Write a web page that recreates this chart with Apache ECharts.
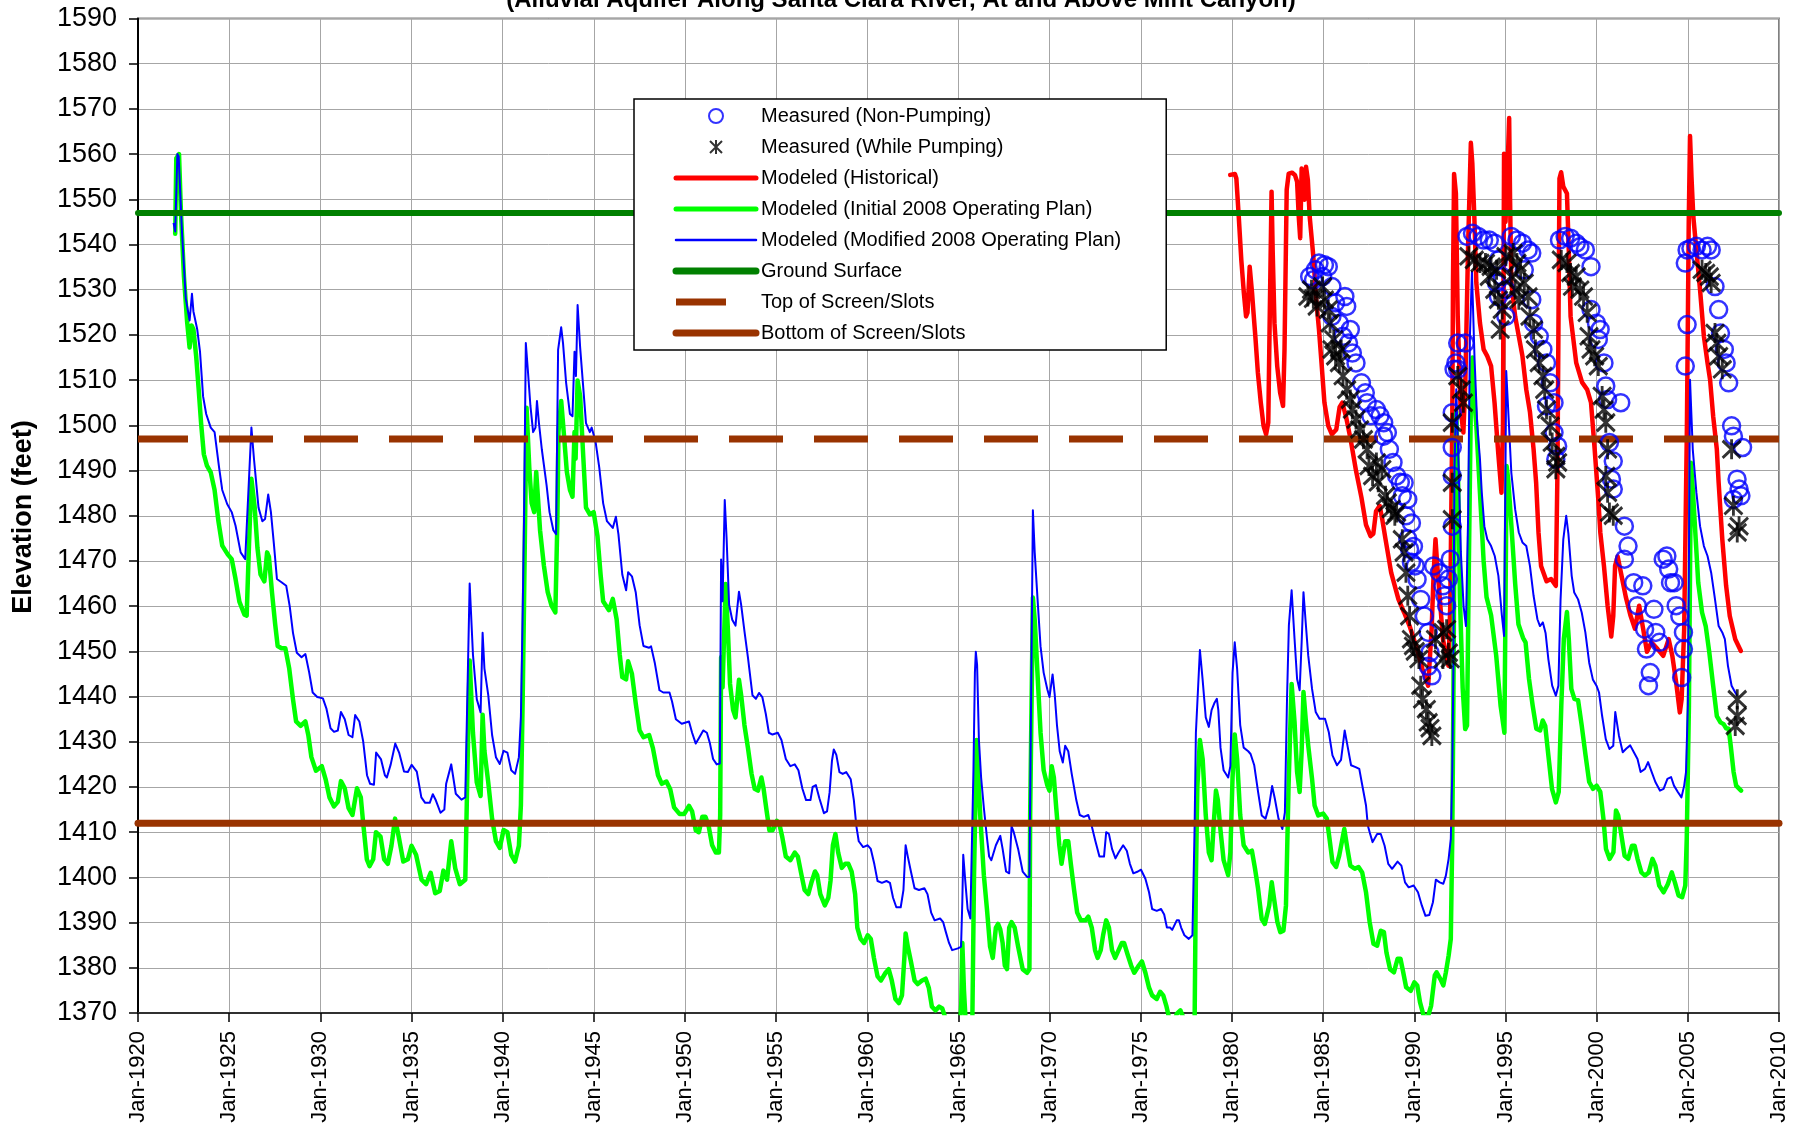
<!DOCTYPE html>
<html>
<head>
<meta charset="utf-8">
<script src="https://cdn.jsdelivr.net/npm/echarts@6/dist/echarts.min.js"></script>
<style>
  html, body { margin: 0; padding: 0; background: #fff; }
  #chart { width: 1803px; height: 1130px; }
</style>
</head>
<body>
<div id="chart"></div>
<script>
// reference levels (feet)
var groundSurface = 1547;
var topOfScreen = 1497;
var bottomOfScreen = 1412;

var seriesNames = [
  'Measured (Non-Pumping)',
  'Measured (While Pumping)',
  'Modeled (Historical)',
  'Modeled (Initial 2008 Operating Plan)',
  'Modeled (Modified 2008 Operating Plan)',
  'Ground Surface',
  'Top of Screen/Slots',
  'Bottom of Screen/Slots'
];

// [decimal year, elevation]
var measuredNonPumping = [
  [1984.26,1532.9],[1984.47,1532.2],[1984.57,1534.4],[1984.77,1535.9],[1984.97,1532.9],[1985.07,1535.5],[1985.28,1535.1],[1985.48,1530.7],
  [1985.48,1524.1],[1985.68,1527.1],[1985.89,1522.6],[1986.09,1519.7],[1986.19,1528.5],[1986.29,1526.3],[1986.39,1518.2],[1986.49,1521.2],
  [1986.6,1516],[1986.8,1513.8],[1987.1,1509.4],[1987.31,1507.2],[1987.41,1505],[1987.61,1502.1],[1987.92,1503.5],[1988.12,1502.1],
  [1988.32,1500.6],[1988.32,1497.6],[1988.52,1498.4],[1988.63,1494.7],[1988.83,1491.8],[1989.03,1488.8],[1989.23,1487.4],[1989.34,1484.4],
  [1989.44,1487.3],[1989.54,1480],[1989.64,1483.6],[1989.64,1474.9],[1989.74,1472.6],[1989.84,1478.4],[1989.84,1469.7],[1989.95,1473.2],
  [1990.05,1468.9],[1990.15,1465.9],[1990.35,1461.5],[1990.55,1457.8],[1990.76,1454.2],[1990.86,1449.7],[1990.76,1446.7],[1990.96,1444.6],
  [1991.06,1468.9],[1991.37,1467.4],[1991.57,1464.5],[1991.67,1462.3],[1991.77,1460.1],[1991.87,1466],[1991.97,1470.4],[1992.08,1477.7],
  [1992.08,1488.8],[1992.08,1495.1],[1992.08,1502.8],[1992.18,1512.4],[1992.28,1513.8],[1992.38,1518.2],[1992.38,1512.4],[1992.79,1518.2],
  [1992.89,1541.8],[1993.19,1542.5],[1993.5,1541.8],[1993.8,1541],[1994.11,1541],[1994.41,1540.3],[1994.51,1531.5],[1994.61,1536.6],
  [1994.61,1528.5],[1994.82,1532.9],[1995.02,1530],[1995.02,1524.1],[1995.32,1541.8],[1995.63,1541],[1995.93,1540.3],[1996.03,1534.4],
  [1996.24,1538.8],[1996.44,1538.1],[1996.44,1527.8],[1996.54,1522.6],[1996.85,1519.7],[1997.05,1516.8],[1997.25,1513.8],[1997.45,1509.4],
  [1997.66,1505],[1997.25,1504.3],[1997.66,1498.4],[1997.86,1495.4],[1997.76,1492.5],[1997.96,1541],[1998.27,1541.8],[1998.57,1541.4],
  [1998.88,1540.3],[1999.08,1539.5],[1999.38,1538.8],[1999.69,1535.1],[1999.69,1525.6],[1999.99,1522.6],[2000.09,1519],[2000.19,1521.2],
  [2000.4,1513.8],[2000.5,1508.7],[2000.6,1505.7],[2001.32,1505],[2000.7,1496.2],[2000.91,1492.1],[2000.81,1488.1],[2000.91,1485.9],
  [2001.52,1477.7],[2001.72,1473.3],[2001.52,1470.4],[2002.03,1465.2],[2002.23,1460.1],[2002.53,1464.5],[2002.63,1454.9],[2002.73,1450.5],
  [2002.94,1445.3],[2002.84,1442.4],[2003.14,1459.3],[2003.24,1454.2],[2003.44,1452],[2003.65,1470.4],[2003.85,1471.1],[2003.95,1468.2],
  [2004.05,1465.2],[2004.25,1465.2],[2004.36,1460.1],[2004.56,1457.8],[2004.76,1454.2],[2004.76,1450.5],[2004.66,1444.2],[2004.86,1513.1],
  [2004.96,1522.3],[2004.96,1538.8],[2004.86,1535.9],[2005.17,1539.2],[2005.47,1539.6],[2005.78,1538.8],[2006.08,1539.6],[2006.28,1538.8],
  [2006.49,1530.7],[2006.69,1525.6],[2006.79,1520.4],[2007,1516.8],[2007.1,1513.8],[2007.24,1509.4],[2007.4,1499.9],[2007.5,1497.6],
  [2008,1495.1],[2007.7,1488.1],[2007.81,1485.9],[2007.91,1484.4],[2007.5,1483.6]
];

var measuredWhilePumping = [
  [1984.16,1528.5],[1984.36,1530],[1984.46,1528],[1984.67,1526.3],[1984.97,1530.7],[1985.07,1527.8],[1985.28,1525.6],[1985.38,1522.6],
  [1985.58,1519],[1985.48,1516.8],[1985.68,1515.3],[1985.89,1513.8],[1985.99,1516.8],[1986.09,1510.9],[1986.29,1507.9],[1986.49,1505.7],
  [1986.6,1503.5],[1986.8,1501.3],[1987,1499.1],[1987.21,1496.9],[1987.41,1494.7],[1987.51,1491],[1987.71,1488.8],[1987.92,1491.8],
  [1988.02,1487.4],[1988.22,1490.3],[1988.42,1484.4],[1988.52,1482.9],[1988.73,1481.5],[1988.93,1480],[1989.03,1480.7],[1989.34,1474.8],
  [1989.44,1471.9],[1989.54,1467.4],[1989.64,1462.3],[1989.74,1457.8],[1989.84,1452.7],[1989.95,1451.2],[1990.05,1450],[1990.25,1448.3],
  [1990.35,1442.4],[1990.45,1439.4],[1990.66,1437.2],[1990.76,1434.3],[1990.86,1433],[1990.96,1431.3],[1991.16,1452.7],[1991.57,1454.2],
  [1991.57,1448.3],[1991.77,1454.9],[1991.87,1449.7],[1991.97,1448.3],[1992.08,1479.2],[1992.08,1487.3],[1992.08,1500.6],[1992.38,1510.9],
  [1992.58,1507.9],[1992.69,1505],[1992.99,1537.4],[1993.29,1536.6],[1993.6,1535.9],[1993.9,1535.9],[1994.11,1532.9],[1994.21,1535.1],
  [1994.41,1530],[1994.51,1534.4],[1994.61,1527.8],[1994.71,1521.2],[1994.82,1525.6],[1995.02,1537.4],[1995.32,1532.9],[1995.42,1538.1],
  [1995.53,1530],[1995.63,1535.9],[1995.73,1527.8],[1995.83,1534.4],[1996.03,1531.5],[1996.24,1528.5],[1996.34,1524.1],[1996.54,1521.2],
  [1996.64,1516.8],[1996.85,1513.8],[1997.05,1510.9],[1997.15,1507.9],[1997.25,1503.5],[1997.45,1499.9],[1997.56,1496.2],[1997.76,1493.2],
  [1997.86,1491.8],[1997.76,1490.3],[1998.06,1536.6],[1998.37,1535.9],[1998.57,1533.7],[1998.67,1530.7],[1998.88,1532.9],[1999.08,1530],
  [1999.28,1528.5],[1999.48,1524.9],[1999.58,1519.7],[1999.69,1516.8],[1999.89,1515.3],[2000.09,1513.1],[2000.3,1506.5],[2000.4,1503.5],
  [2000.5,1500.6],[2000.6,1494.7],[2000.5,1488.8],[2000.6,1485.1],[2000.7,1480.7],[2000.91,1480],[2005.78,1534.4],[2005.98,1533.7],
  [2006.18,1532.9],[2006.28,1531.5],[2006.49,1520.4],[2006.59,1518.2],[2006.69,1515.3],[2006.89,1512.4],[2007.4,1494.7],[2007.5,1482.2],
  [2007.81,1477.7],[2007.71,1476.3],[2007.71,1439.4],[2007.71,1435.7],[2007.6,1433.5]
];

var modeledHistorical = [
  [1979.9,1555.4],[1980.16,1555.6],[1980.24,1554.6],[1980.37,1546.2],[1980.51,1536.6],[1980.65,1529.3],[1980.77,1524.1],[1980.85,1524.9],
  [1980.97,1535.1],[1981.01,1535.5],[1981.1,1529.3],[1981.18,1524.9],[1981.28,1519.7],[1981.42,1511.6],[1981.58,1505],[1981.73,1499.9],
  [1981.87,1498],[1981.99,1500.6],[1982.07,1524.1],[1982.17,1551.7],[1982.23,1538.8],[1982.33,1522.6],[1982.48,1513.1],[1982.64,1507.2],
  [1982.8,1504.3],[1982.88,1516.8],[1983,1552.1],[1983.11,1555.7],[1983.29,1555.9],[1983.45,1555.4],[1983.57,1553.9],[1983.66,1546.2],
  [1983.74,1541.4],[1983.82,1556.8],[1983.9,1555.7],[1983.98,1549.9],[1984.06,1557.2],[1984.16,1554.3],[1984.26,1546.2],[1984.46,1537.4],
  [1984.62,1527.8],[1984.77,1521.2],[1984.91,1513.8],[1985.07,1505],[1985.28,1499.9],[1985.48,1498],[1985.72,1499.1],[1985.9,1504],
  [1986.05,1505],[1986.25,1502],[1986.5,1497],[1986.8,1490],[1987.1,1484],[1987.35,1478],[1987.6,1475.5],[1987.75,1476],
  [1987.9,1481],[1988.1,1482.2],[1988.25,1479],[1988.42,1474.8],[1988.73,1467.4],[1989.13,1461.5],[1989.44,1458.6],[1989.74,1455.6],
  [1990.15,1450.5],[1990.45,1446],[1990.76,1442.4],[1990.95,1455],[1991.06,1467.4],[1991.16,1474.8],[1991.26,1468.9],[1991.57,1452.7],
  [1991.87,1446.8],[1991.97,1460],[1992.08,1500],[1992.12,1531.5],[1992.18,1555.6],[1992.28,1551.3],[1992.38,1524.1],[1992.54,1503.5],
  [1992.69,1498.4],[1992.8,1510],[1992.95,1540],[1993.1,1562.5],[1993.18,1558],[1993.29,1546.2],[1993.4,1531.5],[1993.6,1522.6],
  [1993.8,1516.8],[1994,1515.3],[1994.21,1513.1],[1994.4,1505],[1994.6,1494],[1994.78,1485.1],[1994.86,1500],[1994.92,1560.1],
  [1995,1545],[1995.1,1555],[1995.2,1568],[1995.25,1550],[1995.32,1531.5],[1995.53,1524.1],[1995.73,1519.7],[1995.93,1515.3],
  [1996.14,1507.9],[1996.34,1503],[1996.54,1494.7],[1996.68,1487.3],[1996.81,1476.3],[1996.95,1468.9],[1997.25,1465.5],[1997.5,1466],
  [1997.76,1464.5],[1997.85,1490],[1997.96,1554.6],[1998.05,1556],[1998.17,1552.8],[1998.37,1551.3],[1998.47,1538.8],[1998.57,1524.1],
  [1998.88,1513.8],[1999.2,1509.5],[1999.48,1507.9],[1999.69,1505],[1999.89,1494.7],[2000.09,1483.6],[2000.2,1476.3],[2000.4,1468.9],
  [2000.6,1460.1],[2000.8,1453.3],[2000.91,1457.8],[2001.01,1468.9],[2001.15,1471],[2001.35,1467],[2001.6,1462],[2001.85,1458],
  [2002.1,1455],[2002.33,1460.1],[2002.55,1455],[2002.76,1449.9],[2003,1452],[2003.34,1450.5],[2003.65,1449],[2003.95,1452.7],
  [2004.15,1449],[2004.36,1443.1],[2004.56,1436.5],[2004.66,1439.4],[2004.8,1455],[2004.95,1500],[2005.05,1545],[2005.12,1564],
  [2005.2,1555],[2005.3,1546.2],[2005.47,1538.8],[2005.67,1530],[2005.88,1519.7],[2006.08,1513.8],[2006.22,1510.1],[2006.39,1502],
  [2006.59,1494.7],[2006.69,1487.3],[2006.89,1474.8],[2007.1,1464.5],[2007.3,1457.8],[2007.6,1452.7],[2007.91,1450.1]
];

var initialPlan = [
  [1922.04,1542.4],[1922.1,1559.1],[1922.25,1560],[1922.35,1547.7],[1922.52,1532.9],[1922.69,1523.1],[1922.83,1517.2],[1922.94,1522.1],
  [1923.04,1521.2],[1923.19,1515.3],[1923.32,1508.4],[1923.46,1500.5],[1923.61,1493.6],[1923.78,1491.1],[1923.99,1489.6],[1924.2,1485.7],
  [1924.41,1478.8],[1924.62,1473.4],[1924.93,1471.4],[1925.14,1470.4],[1925.35,1466],[1925.56,1461],[1925.84,1458.1],[1925.96,1457.9],
  [1926.09,1473.9],[1926.22,1488.2],[1926.4,1481.8],[1926.55,1472.9],[1926.72,1467],[1926.93,1465.5],[1927.08,1471.9],[1927.18,1470.9],
  [1927.35,1463],[1927.52,1456.1],[1927.66,1451.2],[1927.87,1450.7],[1928.08,1450.7],[1928.29,1446.3],[1928.5,1439.4],[1928.67,1434.5],
  [1928.92,1433.5],[1929.18,1434.5],[1929.34,1431.5],[1929.51,1426.6],[1929.76,1423.6],[1930.08,1424.6],[1930.29,1421.7],[1930.5,1417.7],
  [1930.75,1415.7],[1930.96,1416.7],[1931.13,1421.3],[1931.34,1419.7],[1931.55,1415.3],[1931.76,1413.8],[1932.01,1419.7],[1932.22,1417.7],
  [1932.35,1412],[1932.55,1404],[1932.7,1402.5],[1932.9,1404],[1933.05,1410],[1933.3,1409],[1933.5,1404],[1933.7,1403],
  [1933.9,1407],[1934.1,1413],[1934.3,1409],[1934.55,1403.5],[1934.8,1404],[1935,1407],[1935.25,1405],[1935.55,1399.5],
  [1935.8,1398.5],[1936.05,1401],[1936.3,1396.5],[1936.55,1397],[1936.75,1401.5],[1936.95,1399.5],[1937.18,1408],[1937.4,1402],
  [1937.65,1398.5],[1937.95,1399.5],[1938.05,1420],[1938.19,1448],[1938.37,1432],[1938.58,1421],[1938.79,1418],[1938.9,1436],
  [1939,1428],[1939.21,1421],[1939.42,1413],[1939.63,1408],[1939.84,1406.5],[1940.05,1410.5],[1940.26,1410],[1940.47,1405],
  [1940.68,1403.5],[1940.89,1407],[1941,1416],[1941.1,1440],[1941.17,1460],[1941.31,1503.9],[1941.46,1490.6],[1941.59,1482.8],
  [1941.73,1480.8],[1941.84,1489.7],[1941.94,1483.7],[1942.05,1476.8],[1942.26,1469],[1942.47,1463.1],[1942.68,1460.1],[1942.89,1458.6],
  [1943,1478.8],[1943.06,1498.5],[1943.21,1505.4],[1943.35,1498.5],[1943.52,1489.7],[1943.69,1485.7],[1943.83,1484.2],[1943.94,1498.5],
  [1944,1492.6],[1944.11,1509.9],[1944.25,1506.4],[1944.4,1494.6],[1944.57,1481.8],[1944.78,1480.3],[1944.99,1480.8],[1945.2,1475.5],
  [1945.37,1467],[1945.51,1461.1],[1945.83,1459.1],[1946.04,1461.6],[1946.25,1457.1],[1946.42,1449.3],[1946.56,1444.3],[1946.77,1443.8],
  [1946.88,1447.8],[1947.09,1445],[1947.3,1438.4],[1947.51,1432.5],[1947.72,1431],[1948.03,1431.5],[1948.24,1428.6],[1948.52,1422.6],
  [1948.73,1420.7],[1948.98,1421.2],[1949.19,1419.5],[1949.4,1415.5],[1949.71,1414],[1949.95,1414],[1950.22,1415.8],[1950.39,1414.6],
  [1950.59,1410.4],[1950.76,1410],[1950.95,1413.4],[1951.12,1413.4],[1951.3,1411.3],[1951.49,1407.1],[1951.69,1405.5],[1951.86,1405.5],
  [1951.93,1413.8],[1951.98,1448.7],[1952.06,1442],[1952.23,1464.9],[1952.35,1455],[1952.47,1442.8],[1952.64,1437],[1952.77,1435.4],
  [1952.96,1443.7],[1953.08,1440.3],[1953.26,1433.7],[1953.45,1428.7],[1953.65,1422.9],[1953.82,1419.6],[1954,1419.2],[1954.19,1422.1],
  [1954.31,1419.6],[1954.48,1414.6],[1954.63,1410.4],[1954.8,1410.4],[1955.04,1412.5],[1955.16,1412.1],[1955.34,1408.8],[1955.53,1404.6],
  [1955.78,1403.8],[1956.02,1405.5],[1956.19,1404.6],[1956.39,1400.5],[1956.56,1397.2],[1956.76,1396.3],[1956.93,1398.8],[1957.13,1401.3],
  [1957.25,1400.5],[1957.42,1396.3],[1957.67,1393.8],[1957.86,1395.5],[1957.98,1399.2],[1958.11,1407.1],[1958.25,1409.6],[1958.4,1405.5],
  [1958.6,1402.1],[1958.79,1403],[1958.96,1403],[1959.14,1401.3],[1959.33,1396.3],[1959.45,1388.9],[1959.63,1386.4],[1959.82,1385.5],
  [1960.02,1387.2],[1960.19,1386.4],[1960.36,1382.2],[1960.56,1378.1],[1960.75,1377.2],[1961,1378.9],[1961.17,1379.7],[1961.34,1377.2],
  [1961.54,1373.1],[1961.73,1372.2],[1961.9,1373.9],[1962.03,1382.2],[1962.1,1387.6],[1962.22,1384.7],[1962.39,1381.4],[1962.59,1377.2],
  [1962.76,1376.4],[1963,1377.2],[1963.2,1377.6],[1963.37,1375.6],[1963.54,1371.4],[1963.74,1370.6],[1963.94,1371.4],[1964.11,1371],
  [1964.28,1368.9],[1964.43,1367.3],[1964.65,1366],[1964.85,1367],[1965.05,1365],[1965.15,1372],[1965.21,1385.5],[1965.3,1375],
  [1965.45,1364],[1965.6,1362],[1965.75,1365],[1965.85,1400],[1965.99,1430.4],[1966.19,1413.8],[1966.39,1400.5],[1966.56,1393],
  [1966.73,1384.7],[1966.88,1382.2],[1967.05,1388.9],[1967.17,1389.7],[1967.29,1388.5],[1967.42,1385.5],[1967.54,1380.5],[1967.66,1379.7],
  [1967.78,1388.9],[1967.91,1390.1],[1968.08,1388.9],[1968.27,1384.7],[1968.52,1379.7],[1968.76,1378.9],[1968.89,1379.7],[1968.93,1413.8],
  [1969.08,1461.9],[1969.18,1457],[1969.33,1445.3],[1969.5,1432],[1969.67,1423.7],[1969.87,1420.4],[1969.99,1419.2],[1970.11,1424.6],
  [1970.23,1422.1],[1970.36,1415.4],[1970.53,1407.1],[1970.65,1403],[1970.85,1408],[1971.02,1408],[1971.16,1403],[1971.34,1397.2],
  [1971.51,1392.2],[1971.71,1390.5],[1971.96,1390.5],[1972.12,1391.3],[1972.31,1388.9],[1972.49,1383.9],[1972.63,1382.2],[1972.8,1383.9],
  [1972.93,1387.2],[1973.1,1390.5],[1973.25,1388.9],[1973.42,1383.9],[1973.59,1382.2],[1973.78,1383.9],[1973.96,1385.5],[1974.08,1385.5],
  [1974.27,1383],[1974.47,1380.5],[1974.64,1378.9],[1974.89,1380.5],[1975.06,1381.4],[1975.25,1378.9],[1975.45,1375.6],[1975.62,1373.9],
  [1975.87,1373.1],[1976.06,1374.7],[1976.23,1373.9],[1976.41,1371.4],[1976.55,1368.9],[1976.75,1367],[1976.97,1369.8],[1977.17,1370.6],
  [1977.34,1368.9],[1977.55,1366],[1977.8,1365],[1977.95,1368],[1978.02,1400],[1978.1,1420],[1978.24,1430.4],[1978.39,1426.2],
  [1978.56,1413.8],[1978.73,1405.5],[1978.88,1403.8],[1979,1412],[1979.12,1419.2],[1979.22,1417.2],[1979.37,1410.4],[1979.54,1403.8],
  [1979.79,1400.5],[1979.91,1405.5],[1980.03,1422.1],[1980.15,1431.6],[1980.28,1426.2],[1980.45,1413.8],[1980.64,1407.1],[1980.89,1405.5],
  [1981.09,1405.9],[1981.26,1402],[1981.43,1397.5],[1981.63,1390.8],[1981.8,1389.7],[1982.04,1393.8],[1982.18,1398.9],[1982.31,1395.2],
  [1982.49,1390.1],[1982.65,1387.9],[1982.82,1388.2],[1982.96,1393.8],[1983.1,1420],[1983.27,1442.8],[1983.43,1434.4],[1983.57,1423.3],
  [1983.71,1418.9],[1983.82,1428],[1983.92,1441],[1984.04,1435.1],[1984.18,1429.2],[1984.39,1421.8],[1984.53,1415.9],[1984.73,1413.7],
  [1985,1414.1],[1985.2,1413],[1985.35,1408.5],[1985.51,1403.4],[1985.71,1402.3],[1985.88,1404.8],[1986.16,1410.7],[1986.33,1406.3],
  [1986.49,1402.6],[1986.73,1401.9],[1986.94,1402.3],[1987.14,1401.1],[1987.35,1396.7],[1987.55,1390.1],[1987.76,1385.3],[1987.96,1384.9],
  [1988.16,1388.2],[1988.33,1387.9],[1988.47,1383.4],[1988.67,1379.7],[1988.88,1379],[1989.08,1382],[1989.24,1382],[1989.39,1379],
  [1989.55,1375.7],[1989.8,1374.9],[1990,1376.8],[1990.16,1376.1],[1990.31,1372.4],[1990.51,1369.4],[1990.71,1368.7],[1990.92,1371.6],
  [1991.12,1378.3],[1991.22,1379],[1991.43,1377.5],[1991.59,1376.1],[1991.73,1379],[1991.88,1382.7],[1992,1386.4],[1992.08,1408.5],
  [1992.14,1438],[1992.2,1478],[1992.3,1503],[1992.4,1488],[1992.5,1462],[1992.65,1442],[1992.79,1432.8],[1992.89,1433.6],
  [1992.99,1468.9],[1993.1,1505],[1993.19,1515],[1993.3,1505],[1993.4,1500],[1993.6,1485],[1993.8,1470],[1993.96,1462],
  [1994.21,1458],[1994.49,1449.1],[1994.73,1438],[1994.94,1432],[1995,1460],[1995.06,1491],[1995.15,1488],[1995.32,1478],
  [1995.53,1465],[1995.71,1456],[1995.96,1453],[1996.1,1452],[1996.29,1443.9],[1996.49,1438],[1996.69,1432.9],[1996.9,1432.5],
  [1997.04,1434.7],[1997.18,1433.5],[1997.35,1427],[1997.55,1419.6],[1997.76,1416.6],[1997.92,1418.9],[1998.06,1438],[1998.2,1452.8],
  [1998.37,1458.7],[1998.47,1452.8],[1998.61,1441.7],[1998.78,1439.5],[1998.98,1439.2],[1999.18,1433.6],[1999.39,1427],[1999.59,1421.1],
  [1999.8,1419.6],[2000,1420.3],[2000.2,1418.9],[2000.37,1413],[2000.51,1406.3],[2000.71,1404.1],[2000.92,1405.6],[2001.06,1414.8],
  [2001.18,1413.7],[2001.33,1410],[2001.53,1404.8],[2001.73,1404.1],[2001.94,1407],[2002.08,1407],[2002.24,1404.1],[2002.45,1401.1],
  [2002.65,1400.4],[2002.86,1401.1],[2003.06,1404.1],[2003.22,1402.6],[2003.43,1398.2],[2003.67,1396.7],[2003.9,1398.5],[2004.12,1401.1],
  [2004.29,1398.9],[2004.49,1396],[2004.69,1395.6],[2004.86,1398.2],[2004.94,1408.5],[2005,1423.3],[2005.06,1438],[2005.17,1491.7],
  [2005.27,1486],[2005.41,1476.3],[2005.57,1465.2],[2005.78,1458.6],[2005.98,1455.6],[2006.18,1449.7],[2006.39,1442.4],[2006.59,1435.7],
  [2006.79,1434.3],[2006.96,1433.9],[2007.1,1433],[2007.24,1432.9],[2007.35,1429.2],[2007.51,1423.3],[2007.65,1420.3],[2007.92,1419.2]
];

var modifiedPlan = [
  [1921.95,1544.8],[1922.04,1542.9],[1922.16,1560],[1922.23,1559.5],[1922.41,1543],[1922.62,1528.1],[1922.83,1523.2],[1922.96,1529.1],
  [1923.04,1525.2],[1923.25,1521.2],[1923.4,1516.3],[1923.57,1506.4],[1923.74,1502.5],[1923.99,1499.5],[1924.2,1498.5],[1924.45,1490.6],
  [1924.62,1485.7],[1924.89,1482.6],[1925.14,1480.8],[1925.35,1477.8],[1925.63,1471.9],[1925.88,1470.4],[1925.96,1470.1],[1926.22,1499.5],
  [1926.36,1492.6],[1926.61,1481.8],[1926.82,1478.8],[1926.97,1479.3],[1927.14,1484.7],[1927.29,1480.8],[1927.45,1473.9],[1927.62,1466],
  [1927.87,1465.3],[1928.13,1464.5],[1928.32,1460],[1928.5,1454.1],[1928.71,1449.7],[1928.97,1448.7],[1929.18,1449.4],[1929.39,1445.3],
  [1929.58,1440.9],[1929.83,1439.9],[1930.14,1439.6],[1930.33,1437.4],[1930.56,1433],[1930.75,1432.2],[1930.96,1432.5],[1931.13,1436.6],
  [1931.34,1435],[1931.55,1431.5],[1931.76,1431],[1931.91,1435.9],[1932.14,1434.5],[1932.35,1430.1],[1932.56,1422.6],[1932.73,1420.7],
  [1932.94,1420.5],[1933.06,1427.6],[1933.33,1426.1],[1933.54,1422.6],[1933.65,1422.1],[1933.86,1425],[1934.11,1429.6],[1934.32,1427.6],
  [1934.59,1423.4],[1934.8,1423.3],[1935.01,1424.9],[1935.29,1423.4],[1935.54,1417.7],[1935.75,1416.5],[1936,1416.5],[1936.17,1418.4],
  [1936.34,1417],[1936.59,1414.3],[1936.8,1415],[1936.9,1420.7],[1937.18,1425],[1937.43,1418.5],[1937.74,1417.2],[1937.95,1417.7],
  [1938.19,1465],[1938.37,1449.3],[1938.58,1439.4],[1938.79,1436.5],[1938.9,1454.1],[1939,1446.2],[1939.21,1440.3],[1939.42,1431.5],
  [1939.63,1426.6],[1939.84,1425.1],[1940.05,1428],[1940.26,1427.6],[1940.47,1423.7],[1940.68,1422.9],[1940.89,1426.6],[1941,1435.5],
  [1941.1,1459.1],[1941.17,1478.8],[1941.27,1518.2],[1941.38,1512.3],[1941.52,1504.4],[1941.67,1498.5],[1941.8,1499.5],[1941.88,1505.4],
  [1941.99,1500.5],[1942.15,1494.6],[1942.41,1486.7],[1942.57,1480.8],[1942.78,1476.8],[1942.93,1475.9],[1943.04,1516.7],[1943.1,1516.7],
  [1943.21,1521.7],[1943.31,1518.2],[1943.48,1509.4],[1943.69,1502.5],[1943.83,1502],[1943.94,1516.3],[1944.02,1510.9],[1944.11,1526.6],
  [1944.25,1517.2],[1944.4,1509.4],[1944.57,1500.5],[1944.78,1498.5],[1944.88,1499.5],[1945.09,1496.5],[1945.3,1490.6],[1945.51,1482.8],
  [1945.72,1478.8],[1946.04,1477.3],[1946.21,1479.8],[1946.35,1475.9],[1946.56,1467],[1946.77,1463.5],[1946.88,1467.5],[1947.09,1466.6],
  [1947.3,1463],[1947.51,1455.8],[1947.72,1451.2],[1948.03,1450.8],[1948.14,1451.1],[1948.35,1447.3],[1948.6,1441.4],[1948.81,1440.9],
  [1949.15,1440.9],[1949.29,1438.9],[1949.5,1435],[1949.82,1434],[1950.22,1434.5],[1950.39,1432],[1950.59,1429.6],[1950.76,1430.8],
  [1951,1432.5],[1951.2,1432],[1951.37,1429.6],[1951.54,1426.2],[1951.74,1425],[1951.91,1425.2],[1951.98,1470.3],[1952.06,1461.1],
  [1952.18,1483.5],[1952.28,1475.2],[1952.42,1460.3],[1952.59,1457],[1952.77,1455.7],[1952.96,1463.2],[1953.08,1460.3],[1953.26,1454.5],
  [1953.45,1448.7],[1953.7,1440.3],[1953.89,1439.5],[1954.06,1440.8],[1954.24,1439.9],[1954.43,1436.2],[1954.6,1432],[1954.8,1431.6],
  [1955.09,1432],[1955.29,1430.4],[1955.53,1426.2],[1955.78,1424.6],[1956.02,1425],[1956.22,1423.7],[1956.44,1419.6],[1956.64,1417.1],
  [1956.88,1417.1],[1957,1420],[1957.18,1420.4],[1957.37,1417.5],[1957.62,1414.2],[1957.79,1414.6],[1957.93,1418.8],[1958.06,1425.8],
  [1958.16,1428.3],[1958.3,1427.1],[1958.47,1423.3],[1958.65,1422.9],[1958.84,1423.3],[1959.09,1421.7],[1959.26,1417.1],[1959.4,1411.3],
  [1959.53,1408],[1959.77,1406.7],[1960.02,1407.1],[1960.19,1406.3],[1960.38,1403],[1960.56,1399.2],[1960.8,1398.8],[1961.05,1399.2],
  [1961.24,1398.8],[1961.41,1395.5],[1961.59,1393.4],[1961.83,1393.4],[1961.98,1397.2],[1962.1,1407.1],[1962.22,1404.6],[1962.39,1401.3],
  [1962.59,1397.6],[1962.83,1397.2],[1963.13,1397.6],[1963.3,1396.3],[1963.5,1392.2],[1963.69,1390.5],[1963.99,1390.9],[1964.16,1390.1],
  [1964.3,1388],[1964.48,1385.5],[1964.65,1383.9],[1964.97,1384.3],[1965.14,1384.7],[1965.21,1394.7],[1965.26,1405],[1965.38,1398.8],
  [1965.5,1393],[1965.65,1390.9],[1965.75,1391.3],[1965.82,1423.7],[1965.9,1445.3],[1965.95,1449.9],[1966.02,1447],[1966.12,1430.4],
  [1966.24,1422.1],[1966.39,1415.4],[1966.56,1408.8],[1966.68,1404.6],[1966.8,1403.8],[1967.05,1407.1],[1967.29,1409.2],[1967.42,1406.3],
  [1967.61,1401.3],[1967.78,1400.9],[1967.91,1411.3],[1968.03,1410],[1968.27,1406.3],[1968.52,1401.3],[1968.76,1400.1],[1968.89,1400.1],
  [1969.08,1481.2],[1969.18,1471.9],[1969.33,1461.9],[1969.5,1451.1],[1969.67,1445.3],[1969.87,1441.6],[1969.99,1439.9],[1970.16,1444.9],
  [1970.28,1440.3],[1970.4,1433.7],[1970.55,1427.9],[1970.72,1425.4],[1970.85,1429.1],[1971.02,1427.9],[1971.21,1422.9],[1971.46,1417.1],
  [1971.65,1413.8],[1971.87,1413.4],[1972.12,1413.8],[1972.31,1411.3],[1972.51,1408],[1972.73,1404.6],[1972.98,1404.6],[1973.1,1410],
  [1973.25,1409.6],[1973.42,1406.3],[1973.61,1404.2],[1973.78,1405.5],[1974.03,1407.1],[1974.23,1405.9],[1974.4,1403],[1974.59,1400.9],
  [1974.84,1401.3],[1975.01,1401.7],[1975.25,1399.7],[1975.45,1396.7],[1975.62,1393],[1975.87,1392.6],[1976.11,1393],[1976.28,1391.8],
  [1976.43,1388.9],[1976.6,1388.9],[1976.72,1388.4],[1976.97,1390.5],[1977.09,1390.5],[1977.21,1388.9],[1977.39,1387.2],[1977.63,1386.4],
  [1977.83,1387.2],[1977.95,1411.3],[1978.02,1432],[1978.24,1450.3],[1978.39,1443.7],[1978.56,1435.4],[1978.73,1433.3],[1978.88,1437],
  [1979.05,1438.7],[1979.17,1439.5],[1979.25,1437],[1979.37,1428.7],[1979.54,1423.7],[1979.79,1422.1],[1979.91,1424.6],[1980.03,1445.3],
  [1980.15,1452],[1980.28,1446.2],[1980.45,1433.7],[1980.64,1428.7],[1980.89,1427.9],[1981.02,1427.3],[1981.22,1424.8],[1981.43,1418.9],
  [1981.63,1413.7],[1981.84,1413],[1982.04,1415.9],[1982.2,1420.2],[1982.35,1417.4],[1982.55,1413],[1982.76,1410.7],[1982.9,1414.4],
  [1983.02,1440],[1983.12,1455.8],[1983.27,1463.5],[1983.43,1452.8],[1983.57,1443.9],[1983.71,1441.4],[1983.82,1452],[1983.92,1463.1],
  [1984.04,1456.5],[1984.18,1449.1],[1984.39,1441.7],[1984.59,1436.6],[1984.8,1435.1],[1985.1,1435.1],[1985.31,1432.1],[1985.51,1427],
  [1985.76,1424.8],[1985.98,1426],[1986.18,1432.5],[1986.33,1429.2],[1986.53,1424.8],[1986.78,1424.4],[1986.98,1424],[1987.18,1419.6],
  [1987.35,1415.9],[1987.45,1411.5],[1987.55,1410],[1987.71,1407.8],[1987.96,1409.6],[1988.16,1409.6],[1988.37,1407],[1988.57,1403],
  [1988.78,1401.9],[1989.08,1403.5],[1989.29,1402.6],[1989.49,1398.9],[1989.69,1397.8],[1989.96,1398.2],[1990.2,1396.7],[1990.41,1393.8],
  [1990.61,1391.5],[1990.82,1391.7],[1991.02,1394.5],[1991.18,1399.5],[1991.39,1398.9],[1991.59,1398.6],[1991.73,1400.4],[1991.88,1404.1],
  [1992,1408.5],[1992.08,1423.3],[1992.14,1445.4],[1992.2,1490],[1992.3,1508],[1992.4,1495],[1992.55,1472],[1992.7,1460],
  [1992.83,1455.6],[1992.95,1480],[1993.05,1520],[1993.16,1534],[1993.3,1515],[1993.45,1500],[1993.6,1492.5],[1993.7,1485.1],
  [1993.84,1477.7],[1994,1474.8],[1994.21,1473.3],[1994.41,1471.1],[1994.61,1466.7],[1994.8,1458],[1994.92,1453.4],[1995,1491],
  [1995.04,1512],[1995.12,1505.7],[1995.32,1489.5],[1995.53,1481.4],[1995.73,1476.3],[1995.93,1474.1],[1996.14,1473.3],[1996.34,1468.9],
  [1996.54,1462.3],[1996.75,1457.1],[1996.89,1455.6],[1997.05,1456.4],[1997.2,1454],[1997.35,1448.3],[1997.56,1442.4],[1997.76,1440.2],
  [1997.9,1442.4],[1998.02,1461.5],[1998.17,1474.8],[1998.33,1480],[1998.45,1476],[1998.63,1466.7],[1998.77,1463],[1998.98,1461.5],
  [1999.18,1458.6],[1999.38,1454.2],[1999.59,1447.5],[1999.79,1443.8],[1999.99,1442.4],[2000.13,1440.9],[2000.3,1435.7],[2000.5,1430.6],
  [2000.7,1428.4],[2000.91,1429.1],[2001.02,1436.6],[2001.22,1431.4],[2001.43,1427.7],[2001.63,1428.5],[2001.84,1429.2],[2002.04,1427.7],
  [2002.24,1426.2],[2002.41,1423.3],[2002.65,1424],[2002.82,1425.5],[2003.02,1423.3],[2003.22,1421.1],[2003.47,1419.2],[2003.67,1419.6],
  [2003.88,1421.8],[2004.08,1422.2],[2004.24,1420.3],[2004.45,1418.9],[2004.65,1417.7],[2004.8,1420.3],[2004.9,1423.3],[2005,1438],
  [2005.06,1470],[2005.12,1510.1],[2005.27,1494.7],[2005.47,1485.1],[2005.67,1477.7],[2005.88,1473.3],[2006.08,1471.1],[2006.28,1467.4],
  [2006.49,1461.5],[2006.69,1455.6],[2006.89,1454.2],[2007.03,1452.7],[2007.2,1446.8],[2007.4,1442.4],[2007.6,1440.9],[2007.71,1440.2]
];

var xMin = 1920, xMax = 2010, xStep = 5;
var yMin = 1370, yMax = 1590, yStep = 10;

var FONT = 'Liberation Sans, Arial, sans-serif';
var asterisk = 'path://M0,0L12,12M12,0L0,12M6,-1L6,13';

function levelLine(v) { return [[xMin, v], [xMax, v]]; }

// legend entry for a line series: line only, no marker in the middle
function lineLegend(name, width, type) {
  return {
    name: name,
    itemStyle: { opacity: 0 },
    lineStyle: { width: width, type: type || 'solid', cap: type ? 'butt' : 'round', dashOffset: 0 }
  };
}

var chart = echarts.init(document.getElementById('chart'), null, { renderer: 'canvas' });

chart.setOption({
  animation: false,
  backgroundColor: '#fff',
  textStyle: { fontFamily: FONT },
  graphic: [
    {
      type: 'text', x: 901, y: 0, z: 20,
      style: {
        text: '(Alluvial Aquifer Along Santa Clara River, At and Above Mint Canyon)',
        font: 'bold 24px ' + FONT, fill: '#000',
        textAlign: 'center', textVerticalAlign: 'middle'
      }
    },
    {
      type: 'text', x: 24, y: 517, rotation: Math.PI / 2, z: 20,
      style: {
        text: 'Elevation (feet)',
        font: 'bold 27px ' + FONT, fill: '#000',
        textAlign: 'center', textVerticalAlign: 'middle'
      }
    }
  ],
  grid: {
    left: 138, right: 24, top: 18.5, bottom: 117,
    show: true, borderColor: '#808080', borderWidth: 2, backgroundColor: 'transparent'
  },
  legend: {
    orient: 'vertical', left: 634, top: 99, z: 30,
    padding: [7, 45, 7, 38.5],
    itemWidth: 80, itemHeight: 14, itemGap: 11,
    backgroundColor: '#fff', borderColor: '#000', borderWidth: 1.5,
    selectedMode: false,
    textStyle: { fontSize: 20, color: '#000', fontFamily: FONT, lineHeight: 20 },
    data: [
      seriesNames[0],
      seriesNames[1],
      lineLegend(seriesNames[2], 5),
      lineLegend(seriesNames[3], 5),
      lineLegend(seriesNames[4], 2.5),
      lineLegend(seriesNames[5], 7),
      lineLegend(seriesNames[6], 7, [50, 31]),
      lineLegend(seriesNames[7], 7)
    ]
  },
  xAxis: {
    type: 'value', min: xMin, max: xMax, interval: xStep,
    axisLine: { show: true, onZero: false, lineStyle: { color: '#303030', width: 2 } },
    axisTick: { show: true, inside: false, length: 9, lineStyle: { color: '#000', width: 1.5 } },
    axisLabel: {
      rotate: 90, fontSize: 22, color: '#000', margin: 18, fontFamily: FONT,
      showMinLabel: true, showMaxLabel: true,
      formatter: function (v) { return 'Jan-' + v; }
    },
    splitLine: { show: true, lineStyle: { color: '#a6a6a6', width: 1 } }
  },
  yAxis: {
    type: 'value', min: yMin, max: yMax, interval: yStep,
    axisLine: { show: true, onZero: false, lineStyle: { color: '#000', width: 2 } },
    axisTick: { show: true, inside: false, length: 9, lineStyle: { color: '#000', width: 1.5 } },
    axisLabel: {
      fontSize: 27, color: '#000', margin: 21, fontFamily: FONT, showMinLabel: true, showMaxLabel: true,
      formatter: function (v) { return String(v); }
    },
    splitLine: { show: true, lineStyle: { color: '#a6a6a6', width: 1 } }
  },
  series: [
    {
      name: seriesNames[0], type: 'scatter', data: measuredNonPumping, z: 6,
      symbol: 'circle', symbolSize: 17,
      itemStyle: { color: 'rgba(0,0,0,0)', borderColor: '#0000FF', borderWidth: 2.5 }
    },
    {
      name: seriesNames[1], type: 'scatter', data: measuredWhilePumping, z: 7,
      symbol: asterisk, symbolSize: [18, 20],
      itemStyle: { color: 'rgba(0,0,0,0)', borderColor: '#000', borderWidth: 3 }
    },
    {
      name: seriesNames[2], type: 'line', data: modeledHistorical, z: 2,
      symbol: 'none', showSymbol: false,
      lineStyle: { color: '#FF0000', width: 4.5, cap: 'round', join: 'round' },
      itemStyle: { color: '#FF0000' }
    },
    {
      name: seriesNames[3], type: 'line', data: initialPlan, z: 3,
      symbol: 'none', showSymbol: false,
      lineStyle: { color: '#00FF00', width: 4.5, cap: 'round', join: 'round' },
      itemStyle: { color: '#00FF00' }
    },
    {
      name: seriesNames[4], type: 'line', data: modifiedPlan, z: 4,
      symbol: 'none', showSymbol: false,
      lineStyle: { color: '#0000FF', width: 2, join: 'round' },
      itemStyle: { color: '#0000FF' }
    },
    {
      name: seriesNames[5], type: 'line', data: levelLine(groundSurface), z: 5,
      symbol: 'none', showSymbol: false,
      lineStyle: { color: '#008000', width: 6, cap: 'round' },
      itemStyle: { color: '#008000' }
    },
    {
      name: seriesNames[6], type: 'line', data: levelLine(topOfScreen), z: 5,
      symbol: 'none', showSymbol: false,
      lineStyle: { color: '#993300', width: 7, type: [54, 31], dashOffset: 4, cap: 'butt' },
      itemStyle: { color: '#993300' }
    },
    {
      name: seriesNames[7], type: 'line', data: levelLine(bottomOfScreen), z: 5,
      symbol: 'none', showSymbol: false,
      lineStyle: { color: '#993300', width: 7, cap: 'round' },
      itemStyle: { color: '#993300' }
    }
  ]
});
</script>
</body>
</html>
